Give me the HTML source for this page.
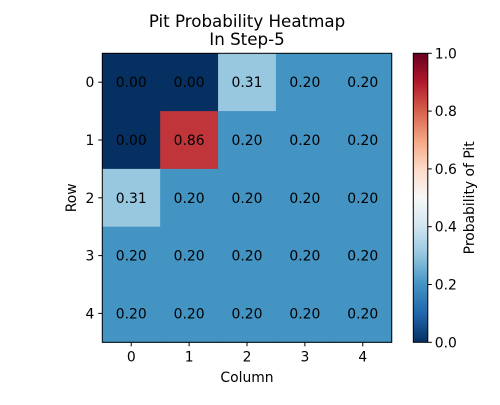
<!DOCTYPE html>
<html><head><meta charset="utf-8"><style>
body{margin:0;background:#fff;}
svg text{font-family:"DejaVu Sans","Liberation Sans",sans-serif;}
</style></head><body>
<svg id="chart" width="500" height="400" xmlns="http://www.w3.org/2000/svg">
<text x="247" y="27" font-size="16.7" text-anchor="middle">Pit Probability Heatmap</text>
<text x="247" y="45" font-size="16.7" text-anchor="middle">In Step-5</text>
<g id="cells"></g>
<g id="axes"></g>
<defs><linearGradient id="cbg" x1="0" y1="1" x2="0" y2="0"></linearGradient></defs>
<g id="cbar"></g>
</svg>
<script>
const rows = [0,1,2,3,4];
const cols = [0,1,2,3,4];
const values = [
 [0.00,0.00,0.31,0.20,0.20],
 [0.00,0.86,0.20,0.20,0.20],
 [0.31,0.20,0.20,0.20,0.20],
 [0.20,0.20,0.20,0.20,0.20],
 [0.20,0.20,0.20,0.20,0.20]
];
const cbTicks = [0.0,0.2,0.4,0.6,0.8,1.0];
const cbTickLabels = ["0.0","0.2","0.4","0.6","0.8","1.0"];

const stops=["#053061","#2166ac","#4393c3","#92c5de","#d1e5f0","#f7f7f7","#fddbc7","#f4a582","#d6604d","#b2182b","#67001f"];
function hex(h){return [1,3,5].map(i=>parseInt(h.substr(i,2),16));}
function cmap(v){v=Math.max(0,Math.min(1,v));const p=v*10,i=Math.min(9,Math.floor(p)),t=p-i;const a=hex(stops[i]),b=hex(stops[i+1]);return `rgb(${a.map((c,k)=>Math.round(c+(b[k]-c)*t)).join(',')})`;}
const L=102.3,R=391.7,T=53.3,B=342.3;
const cw=(R-L)/cols.length,ch=(B-T)/rows.length;
const xs=c=>L+cw*(c+0.5), ys=r=>T+ch*(r+0.5);
const NS="http://www.w3.org/2000/svg";
const FS=13.9;
function mk(tag,attrs,parent,txt){const e=document.createElementNS(NS,tag);for(const k in attrs)e.setAttribute(k,attrs[k]);if(txt!==undefined)e.textContent=txt;parent.appendChild(e);return e;}
const cells=document.getElementById('cells');
rows.forEach((r,ri)=>cols.forEach((c,ci)=>{
 const v=values[ri][ci];
 const rc=mk('rect',{x:xs(ci)-cw/2,y:ys(ri)-ch/2,width:cw+0.5,height:ch+0.5,fill:cmap(v)},cells);
 
 
 const t=mk('text',{x:xs(ci),y:ys(ri)+5,'font-size':FS,'text-anchor':'middle'},cells,v.toFixed(2));
 
 
}));
const ax=document.getElementById('axes');
mk('rect',{x:L,y:T,width:R-L,height:B-T,fill:'none',stroke:'#000','stroke-width':1},ax);
cols.forEach((c,ci)=>{mk('line',{x1:xs(ci),x2:xs(ci),y1:B,y2:B+4,stroke:'#000'},ax);
 const t=mk('text',{x:xs(ci),y:B+19,'font-size':FS,'text-anchor':'middle'},ax,String(c));
 
 });
rows.forEach((r,ri)=>{mk('line',{x1:L-4,x2:L,y1:ys(ri),y2:ys(ri),stroke:'#000'},ax);
 const t=mk('text',{x:L-8,y:ys(ri)+5,'font-size':FS,'text-anchor':'end'},ax,String(r));
 
 });
const xt=mk('text',{x:(L+R)/2,y:382,'font-size':FS,'text-anchor':'middle'},ax,'Column');


const yt=mk('text',{x:0,y:0,'font-size':FS,'text-anchor':'middle',transform:`translate(76,${(T+B)/2}) rotate(-90)`},ax,'Row');


const g=document.getElementById('cbg');
stops.forEach((s,i)=>mk('stop',{offset:(i*10)+'%','stop-color':s},g));
const cb=document.getElementById('cbar');
const CL=413.3,CR=427.8;
const cbs=v=>B-(B-T)*v;
const cr=mk('rect',{x:CL,y:T,width:CR-CL,height:B-T,fill:'url(#cbg)',stroke:'#000','stroke-width':1},cb);


cbTicks.forEach((v,i)=>{mk('line',{x1:CR,x2:CR+4,y1:cbs(v),y2:cbs(v),stroke:'#000'},cb);
 const t=mk('text',{x:CR+7,y:cbs(v)+5,'font-size':FS},cb,cbTickLabels[i]);
 
 });
const ct=mk('text',{x:0,y:0,'font-size':FS,'text-anchor':'middle',transform:`translate(474,${(T+B)/2}) rotate(-90)`},cb,'Probability of Pit');


</script>
</body></html>
